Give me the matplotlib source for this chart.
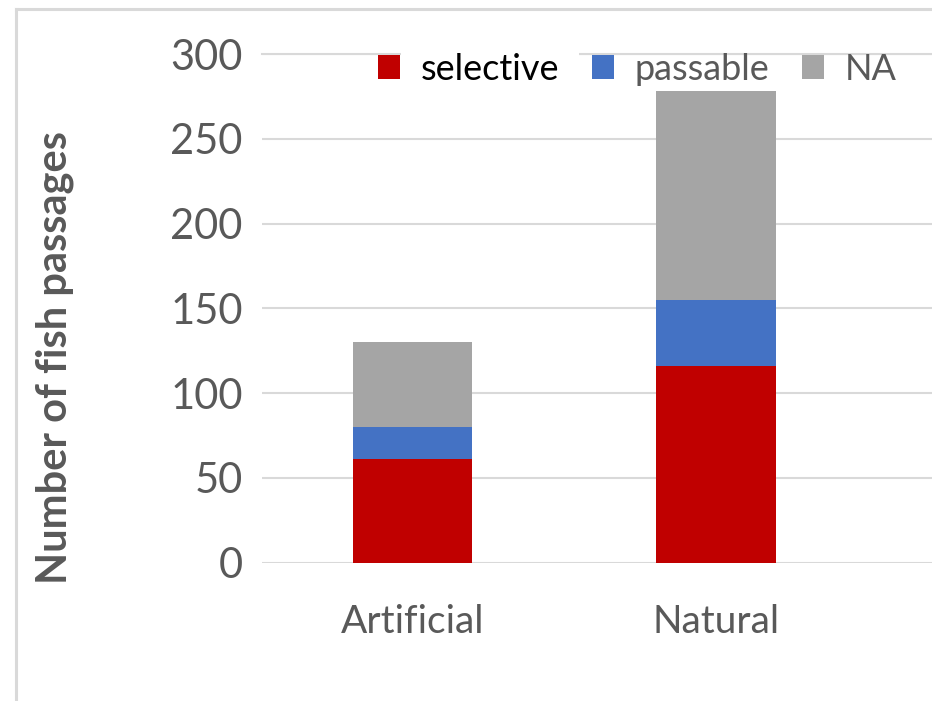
import matplotlib
matplotlib.use("Agg")
import matplotlib.pyplot as plt
from matplotlib.lines import Line2D
import numpy as np

# Data
categories = ["Artificial", "Natural"]
selective = [61, 116]
passable = [19, 39]
na_values = [50, 123]
series_labels = ["selective", "passable", "NA"]
y_ticks = [0, 50, 100, 150, 200, 250, 300]

colors = ["#C00000", "#4472C4", "#A5A5A5"]
text_gray = "#595959"
grid_gray = "#D9D9D9"

plt.rcParams["font.family"] = ["Lato", "DejaVu Sans"]

fig = plt.figure(figsize=(9.32, 7.01), dpi=100)
ax = fig.add_axes([262 / 932, 1 - 562.7 / 701, (932 - 262) / 932, (562.7 - 54) / 701])

x = np.arange(len(categories))
width = 0.395
bottom = np.zeros(len(categories))
handles = []
for vals, col, lab in zip([selective, passable, na_values], colors, series_labels):
    b = ax.bar(x, vals, width, bottom=bottom, color=col, label=lab, zorder=3)
    bottom += np.array(vals)
    handles.append(b)

ax.set_ylim(0, 300)
ax.set_xlim(-0.496, 1.712)
ax.set_yticks(y_ticks)
ax.set_xticks(x)
ax.set_xticklabels(categories)
ax.tick_params(axis="both", length=0, colors=text_gray)
ax.tick_params(axis="y", pad=14, labelsize=30)
ax.tick_params(axis="x", pad=30, labelsize=28)
ax.grid(axis="y", color=grid_gray, linewidth=1.5, zorder=0)
ax.set_axisbelow(True)
for s in ax.spines.values():
    s.set_visible(False)
# keep the top gridline visible at the axes edge
ax.axhline(300, color=grid_gray, linewidth=1.5, zorder=0, clip_on=False)

ax.set_ylabel("Number of fish passages", fontsize=30, fontweight="bold",
              color=text_gray)
ax.yaxis.set_label_coords(-0.28, 0.404)

leg = ax.legend(handles=handles, labels=series_labels, ncol=3, frameon=False,
                loc="upper right", bbox_to_anchor=(0.969, 1.031), fontsize=26,
                handlelength=0.61, handleheight=0.61, handletextpad=0.58,
                columnspacing=0.9, borderaxespad=0)
for t in leg.get_texts():
    t.set_color(text_gray)
sel_text = leg.get_texts()[0]
sel_text.set_color("black")
sel_text.set_bbox(dict(facecolor="white", edgecolor="none", pad=14))

# light chart frame along the top and left edges
fig.add_artist(Line2D([16 / 932, 16 / 932], [0, 1 - 9 / 701],
                      transform=fig.transFigure, color=grid_gray, linewidth=2.2))
fig.add_artist(Line2D([16 / 932, 1], [1 - 9 / 701, 1 - 9 / 701],
                      transform=fig.transFigure, color=grid_gray, linewidth=2.2))

fig.savefig("out.png", dpi=100, facecolor="white")
